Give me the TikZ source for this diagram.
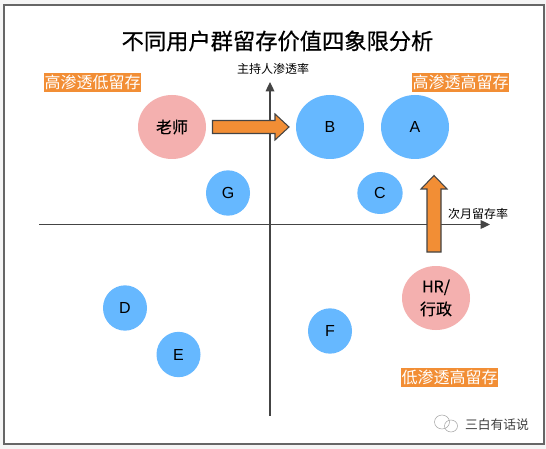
\documentclass[tikz,border=0pt]{standalone}
\usepackage{fontspec}
\setmainfont{Liberation Sans}
\newfontfamily\cjk{Noto Sans CJK SC}
\newfontfamily\cjkmid{Noto Sans CJK SC}[FakeBold=0.6]
\newfontfamily\cjksemi{Noto Sans CJK SC}[FakeBold=0.3]
\usetikzlibrary{shapes.geometric,shapes.arrows,arrows.meta}
\definecolor{bluebub}{HTML}{66B8FF}
\definecolor{pinkbub}{HTML}{F4B0AF}
\definecolor{orangeb}{HTML}{F28E35}
\definecolor{axisc}{HTML}{444444}
\definecolor{framec}{HTML}{666666}
\tikzset{
  blueb/.style={shape=ellipse,fill=bluebub,inner sep=0pt,font=\fontsize{12pt}{14pt}\selectfont,text=black},
  pinkb/.style={shape=ellipse,fill=pinkbub,inner sep=0pt,font=\cjksemi\fontsize{12pt}{17pt}\selectfont,text=black,align=center},
  tag/.style={fill=orangeb,text=white,inner sep=0pt,minimum width=72.8pt,minimum height=14.4pt,font=\cjk\fontsize{12pt}{14pt}\selectfont},
  axlabel/.style={inner sep=0pt,font=\cjk\fontsize{9pt}{11pt}\selectfont},
  axisline/.style={draw=axisc,line width=0.9pt,-{Triangle[length=7pt,width=6.5pt]}},
  bigarrow/.style={draw=axisc,line width=0.8pt,fill=orangeb,line join=miter},
}
\begin{document}
\begin{tikzpicture}[x=0.75pt,y=-0.75pt]
\useasboundingbox (0,0) rectangle (546,449);
\fill[black!4] (0,0) rectangle (546,449);
\draw[draw=framec,line width=1pt,fill=white] (4,5) rectangle (544,444);

\node[inner sep=0pt,font=\cjkmid\fontsize{16.7pt}{20pt}\selectfont] (title) at (277.5,41) {不同用户群留存价值四象限分析};

\coordinate (xs) at (39,224.5);
\coordinate (xe) at (490,224.5);
\coordinate (ys) at (270,415.5);
\coordinate (ye) at (270,82);
\draw[axisline] (xs) -- (xe);
\draw[axisline] (ys) -- (ye);
\node[axlabel] (ylab) at (273,69) {主持人渗透率};
\node[axlabel] (xlab) at (478,213.5) {次月留存率};

\node[tag] (t1) at (92.5,82.5) {高渗透低留存};
\node[tag] (t2) at (460.5,82.5) {高渗透高留存};
\node[tag] (t3) at (449.5,377.5) {低渗透高留存};

\node[pinkb,minimum width=51pt,minimum height=48pt] (teacher) at (172,127) {老师};
\node[blueb,minimum width=51pt,minimum height=48pt] (B) at (330,127) {B};
\node[blueb,minimum width=51pt,minimum height=48pt] (A) at (415,127) {A};
\node[blueb,minimum width=33pt,minimum height=34pt] (G) at (228,193) {G};
\node[blueb,minimum width=34pt,minimum height=31.5pt] (C) at (380,193) {C};
\node[blueb,minimum width=33pt,minimum height=34pt] (D) at (125,308) {D};
\node[blueb,minimum width=33pt,minimum height=34pt] (E) at (178.5,354.5) {E};
\node[blueb,minimum width=33pt,minimum height=34pt] (F) at (330,331) {F};
\node[pinkb,minimum width=51pt,minimum height=48pt] (HR) at (436,298) {\fontsize{12pt}{17pt}\selectfont HR/\\行政};

\draw[bigarrow] (212.5,120.5) -- (275,120.5) -- (275,114) -- (289,127) -- (275,140) -- (275,133.5) -- (212.5,133.5) -- cycle;
\draw[bigarrow] (427,252) -- (427,189) -- (421,189) -- (434,175.5) -- (447,189) -- (441,189) -- (441,252) -- cycle;

% watermark
\draw[black!35,line width=0.4pt] (442,422) circle[x radius=7.5,y radius=7];
\draw[black!35,line width=0.4pt] (451,426) circle[x radius=6.5,y radius=6];
\node[inner sep=0pt,text=black!75,font=\cjk\fontsize{9.6pt}{11pt}\selectfont] (wm) at (497,425) {三白有话说};
\end{tikzpicture}
\end{document}
